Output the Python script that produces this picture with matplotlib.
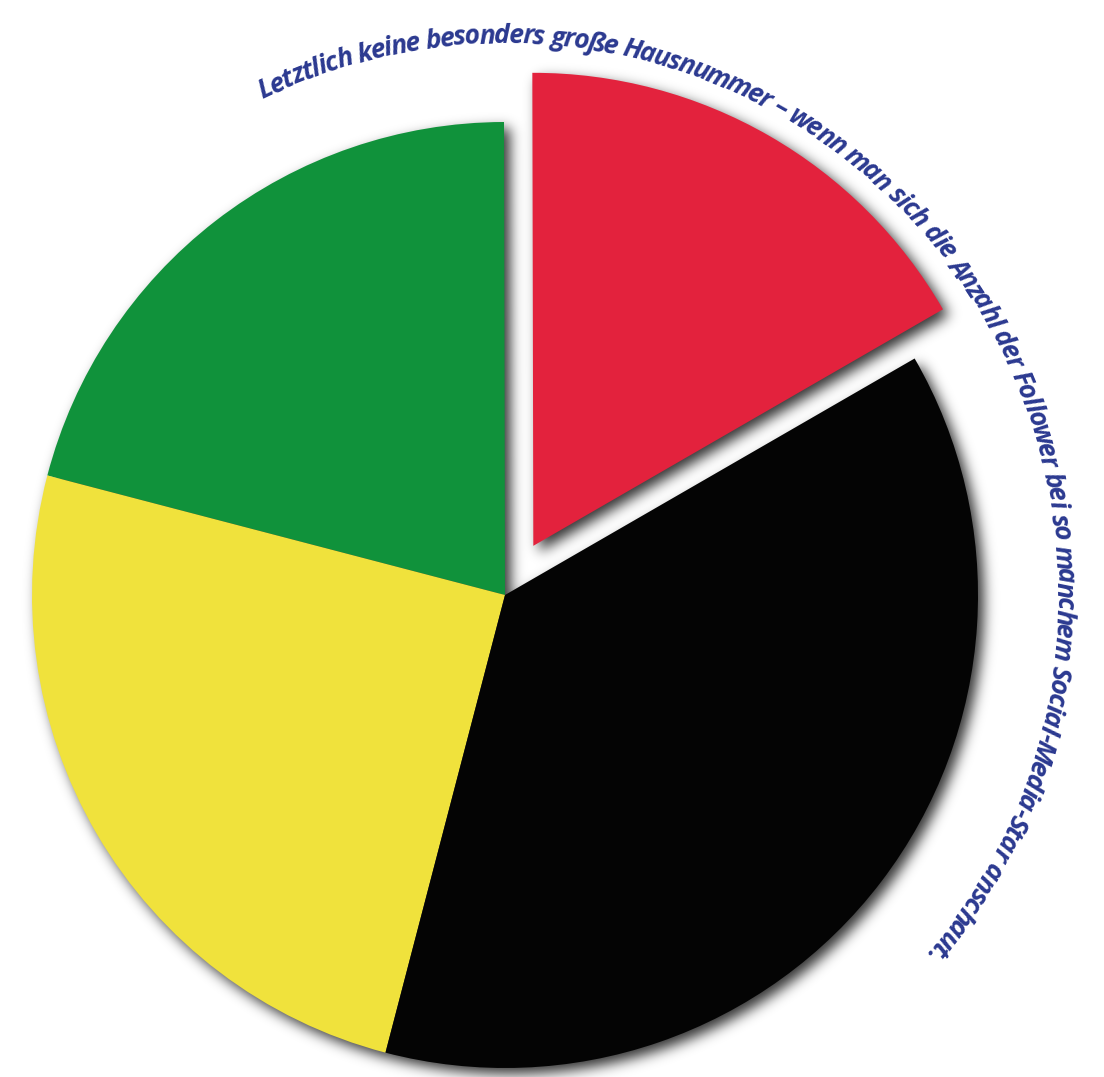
import numpy as np
import matplotlib
matplotlib.use('Agg')
import matplotlib.pyplot as plt
from matplotlib.font_manager import FontProperties

# ---- data ----
slice_names = ['Rot', 'Grün', 'Gelb', 'Schwarz']
shares = [16.7, 20.9, 25.0, 37.4]
colors = ['#E3223D', '#10923B', '#F0E23C', '#040404']
explode_frac = [0.12, 0, 0, 0]
caption = ("Letztlich keine besonders große Hausnummer – wenn man sich die Anzahl "
           "der Follower bei so manchem Social-Media-Star anschaut.")
text_color = '#2B3990'

W, H = 1104, 1077
cx, cy, R = 505, H - 595, 473
explode = [e * R for e in explode_frac]   # pie's explode is in data units


def draw_pie(axis, cols, z):
    wd, _ = axis.pie(shares, explode=explode, colors=cols, startangle=30,
                     radius=R, center=(cx, cy), frame=True,
                     wedgeprops=dict(linewidth=0, zorder=z))
    axis.set_xlim(0, W)
    axis.set_ylim(0, H)
    axis.set_aspect('equal')
    axis.axis('off')
    return wd


# ---- soft drop shadow: render pie silhouette off-screen, blur it ----
sfig = plt.figure(figsize=(W / 100, H / 100), dpi=100)
sax = sfig.add_axes([0, 0, 1, 1])
draw_pie(sax, ['#000000'] * 4, 1)
sfig.canvas.draw()
buf = np.asarray(sfig.canvas.buffer_rgba())[:, :, :3].astype(float).mean(axis=2)
plt.close(sfig)
mask = 1.0 - buf / 255.0
sigma = 6.5
kx = np.arange(-22, 23)
kern = np.exp(-0.5 * (kx / sigma) ** 2)
kern /= kern.sum()
blur = np.apply_along_axis(lambda r: np.convolve(r, kern, mode='same'), 1, mask)
blur = np.apply_along_axis(lambda c: np.convolve(c, kern, mode='same'), 0, blur)
shadow = np.zeros((H, W, 4))
shadow[:, :, 3] = np.clip(blur * 0.8, 0, 1)
sdx, sdy = 6, 6

fig = plt.figure(figsize=(W / 100, H / 100), dpi=100)
fig.patch.set_facecolor('white')
ax = fig.add_axes([0, 0, 1, 1])
ax.imshow(shadow, extent=(sdx, W + sdx, -sdy, H - sdy), origin='upper',
          interpolation='bilinear', zorder=1)
wedges = draw_pie(ax, colors, 2)

# ---- curved caption ----
base_size = 20
fp = FontProperties(family=['Open Sans', 'DejaVu Sans'], style='italic', weight='bold', size=base_size)
renderer = fig.canvas.get_renderer()


def tw(s):
    w, h, d = renderer.get_text_width_height_descent(s, fp, ismath=False)
    return w


bar = tw('|')
prefix = [tw(caption[:i] + '|') - bar for i in range(len(caption) + 1)]
prefix[0] = 0.0
total = prefix[-1]
r_text = 552
a0, a1 = 116.0, -40.5
arc_len = r_text * np.radians(a0 - a1)
scale = arc_len / total
fp2 = fp.copy()
fp2.set_size(base_size * scale * 1.1)   # slightly tighter tracking than the font's default

for i, ch in enumerate(caption):
    if ch == ' ':
        continue
    s = 0.5 * (prefix[i] + prefix[i + 1]) * scale
    th = np.radians(a0) - s / r_text
    x = cx + r_text * np.cos(th)
    y = cy + r_text * np.sin(th)
    ax.text(x, y, ch, rotation=np.degrees(th) - 90, rotation_mode='anchor',
            ha='center', va='baseline', fontproperties=fp2, color=text_color, zorder=5)

fig.savefig('out.png', dpi=100, facecolor='white')
